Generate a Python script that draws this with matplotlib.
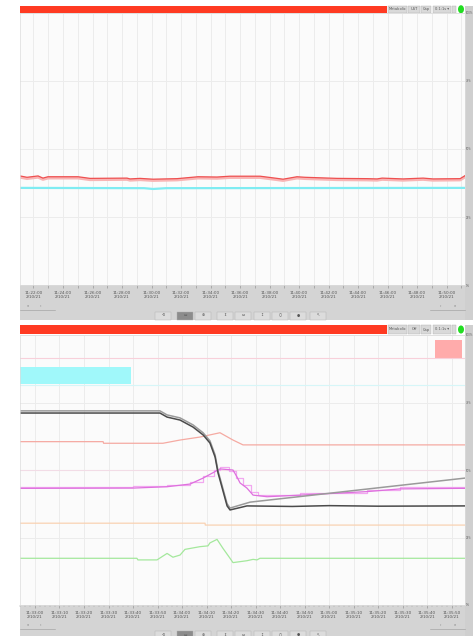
import matplotlib
matplotlib.use("Agg")
import matplotlib.pyplot as plt
from matplotlib.patches import Rectangle, Circle

W, H = 473, 636

# ---- top panel (x in minutes, y in % of scale) ----
TOP_RED_T = [-0.92, -0.44, 0.31, 0.64, 0.98, 3.02, 3.83, 6.34, 6.54, 7.22, 8.10, 9.73,
             11.15, 12.44, 13.32, 15.36, 16.51, 16.92, 17.86, 18.41, 20.58, 22.61,
             23.29, 23.63, 25.05, 26.41, 27.08, 28.92, 29.25]
TOP_RED_Y = [40.1, 39.6, 40.1, 39.3, 39.8, 39.8, 39.2, 39.3, 39.0, 39.2, 38.9, 39.1,
             39.8, 39.7, 40.0, 40.0, 39.2, 38.9, 39.8, 39.6, 39.2, 39.1,
             39.0, 39.3, 39.0, 39.3, 39.0, 39.1, 40.2]
TOP_CYAN_T = [-0.92, 7.5, 8.1, 9.0, 29.25]
TOP_CYAN_Y = [35.7, 35.6, 35.3, 35.6, 35.7]
TOP_TIMES = ["11:22:00", "11:24:00", "11:26:00", "11:28:00", "11:30:00", "11:32:00",
             "11:34:00", "11:36:00", "11:38:00", "11:40:00", "11:42:00", "11:44:00",
             "11:46:00", "11:48:00", "11:50:00"]

# ---- bottom panel (x in 10 s steps, y in % of scale) ----
DARK_U = [-0.61, 5.10, 5.39, 5.92, 6.45, 6.86, 7.14, 7.35, 7.47, 7.55, 7.84, 7.96,
          8.65, 10.5, 12.0, 14.0, 17.55]
DARK_Y = [71.1, 71.1, 69.6, 68.5, 65.9, 63.0, 60.0, 54.8, 48.9, 46.3, 36.7, 35.2,
          36.7, 36.5, 36.8, 36.6, 36.7]
GRAY_U = [-0.61, 5.10, 5.39, 5.92, 6.45, 6.86, 7.14, 7.35, 7.47, 7.55, 7.84, 7.96,
          8.78, 17.55]
GRAY_Y = [71.9, 71.9, 70.4, 69.3, 66.7, 63.8, 60.8, 55.6, 49.7, 47.1, 37.5, 35.9,
          38.1, 47.0]
SAL_U = [-0.61, 2.78, 2.80, 5.22, 5.92, 6.73, 7.55, 8.08, 8.49, 17.55]
SAL_Y = [60.5, 60.5, 59.9, 59.9, 61.1, 62.2, 63.8, 61.1, 59.3, 59.3]
MAG_U = [-0.61, 4.0, 5.39, 6.33, 6.86, 7.55, 8.08, 8.24, 8.37, 8.65, 8.90, 9.47,
         10.82, 13.55, 14.9, 17.35, 17.55]
MAG_Y = [43.2, 43.3, 43.8, 44.8, 47.0, 50.4, 50.0, 47.5, 45.2, 43.3, 40.7, 40.1,
         40.7, 42.0, 43.0, 43.2, 43.2]
MAG2_U = [-0.61, 4.0, 5.39, 6.33, 6.86, 7.3, 7.55, 7.9, 8.2, 8.5, 8.8, 9.1, 9.47,
          10.82, 13.55, 14.9, 17.55]
MAG2_Y = [43.8, 43.9, 44.4, 45.4, 47.6, 50.0, 51.0, 49.5, 47.0, 44.5, 42.0, 40.8,
          40.7, 41.3, 42.6, 43.6, 43.8]
ORG_U = [-0.61, 6.94, 6.95, 17.55]
ORG_Y = [30.3, 30.3, 29.6, 29.6]
GRN_U = [-0.61, 4.16, 4.20, 4.98, 5.39, 5.63, 5.92, 6.12, 6.73, 7.06, 7.14, 7.43,
         7.67, 7.96, 8.08, 8.65, 8.90, 9.06, 9.18, 17.55]
GRN_Y = [17.3, 17.3, 16.7, 16.7, 19.1, 17.7, 18.5, 20.6, 21.6, 21.9, 23.0, 24.3,
         21.0, 17.3, 15.7, 16.4, 16.9, 16.7, 17.3, 17.3]
LEVELS = [91.5, 81.3, 50.0]
LEVEL_COLORS = ["#f8d0da", "#d6f6f8", "#f2dce6"]
CYAN_BAND_U = [-0.61, 3.92]
CYAN_BAND_Y = [81.7, 88.3]
ALARM_U = [16.33, 17.43]
ALARM_Y = [91.5, 98.1]
BOT_TIMES = ["11:33:00", "11:33:10", "11:33:20", "11:33:30", "11:33:40", "11:33:50",
             "11:34:00", "11:34:10", "11:34:20", "11:34:30", "11:34:40", "11:34:50",
             "11:35:00", "11:35:10", "11:35:20", "11:35:30", "11:35:40", "11:35:50"]
DATE = "2/10/21"
PCT = ["0%", "25%", "50%", "75%", "100%"]

fig = plt.figure(figsize=(W / 100, H / 100), dpi=100)
fig.patch.set_facecolor("white")


def rect(x0, y0, x1, y1, **kw):
    kw.setdefault("zorder", -1)
    fig.patches.append(Rectangle((x0 / W, 1 - y1 / H), (x1 - x0) / W, (y1 - y0) / H,
                                 transform=fig.transFigure, **kw))


def txt(x, y, s, **kw):
    fig.text(x / W, 1 - y / H, s, ha="center", va="center", fontsize=2.6, color="#555555", **kw)


def chrome(bar_top, bar_bot, plot_bot, labs, nav_y, tool_y, end_y):
    # header bar + controls
    rect(20, bar_top, 387, bar_bot, facecolor="#ff3a22", lw=0)
    for (a, b, s) in [(388, 407, labs[0]), (408, 420, labs[1]), (421, 431, labs[2]),
                      (433, 451, "0.1:1s ▾"), (452, 456, "")]:
        rect(a, bar_top, b, bar_bot, facecolor="#d9d9d9", edgecolor="#b0b0b0", lw=0.3)
        txt((a + b) / 2, (bar_top + bar_bot) / 2, s)
    fig.patches.append(Circle((461 / W, 1 - (bar_top + bar_bot) / 2 / H), 3 / W,
                              transform=fig.transFigure, facecolor="#22dd22", lw=0, zorder=-1))
    # scrollbar
    rect(465, bar_top, 473, end_y, facecolor="#cfcfcf", lw=0)
    # time axis band
    rect(20, plot_bot, 465, end_y, facecolor="#d4d4d4", lw=0)
    # nav buttons
    txt(28, nav_y, "«"); txt(40, nav_y, "‹"); txt(440, nav_y, "›"); txt(455, nav_y, "»")
    fig.add_artist(plt.Line2D([20 / W, 55 / W], [1 - (nav_y + 3) / H] * 2, color="#999999", lw=0.4))
    fig.add_artist(plt.Line2D([430 / W, 465 / W], [1 - (nav_y + 3) / H] * 2, color="#999999", lw=0.4))
    # toolbar
    icons = ["⟲", "▭", "⊕", "⇕", "⇔", "↕", "○", "●", "↖"]
    for k, cx in enumerate([163, 185, 203, 225, 243, 262, 280, 298, 318]):
        rect(cx - 8, tool_y - 4, cx + 8, tool_y + 4,
             facecolor="#8c8c8c" if k == 1 else "#dcdcdc", edgecolor="#b0b0b0", lw=0.3)
        txt(cx, tool_y, icons[k])


chrome(6, 12.5, 285, ["Metabolic", "UST", "Cap"], 306.5, 315.5, 320)
chrome(325, 334, 605, ["Metabolic", "Off", "Cap"], 625.5, 635, 636)


def style(ax):
    ax.set_facecolor("#fbfbfb")
    for s in ax.spines.values():
        s.set_color("#dcdcdc")
        s.set_linewidth(0.5)
    ax.set_ylim(0, 100)
    ax.set_yticks([0, 25, 50, 75, 100])
    ax.set_yticklabels(PCT)
    ax.yaxis.tick_right()
    ax.tick_params(axis="y", length=0, pad=0.4, labelsize=1.9, labelcolor="#666666")
    ax.tick_params(axis="x", length=2, width=0.4, color="#888888", pad=2,
                   labelsize=3, labelcolor="#555555")
    ax.grid(True, color="#ececec", lw=0.7)
    ax.set_axisbelow(True)


# top panel
ax1 = fig.add_axes([20 / W, 1 - 285 / H, 445 / W, 272 / H])
style(ax1)
ax1.set_xlim(-0.915, 29.25)
ax1.set_xticks(range(30))
ax1.set_xticklabels([f"{TOP_TIMES[i // 2]}\n{DATE}" if i % 2 == 0 and i // 2 < len(TOP_TIMES) else ""
                     for i in range(30)])
ax1.plot(TOP_RED_T, [v - 0.5 for v in TOP_RED_Y], color="#f9b4b4", lw=2.0)
ax1.plot(TOP_RED_T, TOP_RED_Y, color="#ee5050", lw=0.9)
ax1.plot(TOP_CYAN_T, TOP_CYAN_Y, color="#7fecf2", lw=1.6)

# bottom panel
ax2 = fig.add_axes([20 / W, 1 - 605 / H, 445 / W, 270 / H])
style(ax2)
ax2.set_xlim(-0.612, 17.55)
ax2.set_xticks(range(18))
ax2.set_xticks([i / 5 for i in range(-3, 88)], minor=True)
ax2.tick_params(axis="x", which="minor", length=1.2, width=0.3, color="#999999")
ax2.set_xticklabels([f"{t}\n{DATE}" for t in BOT_TIMES])
ax2.fill_between(CYAN_BAND_U, CYAN_BAND_Y[0], CYAN_BAND_Y[1], color="#a0f8fa", lw=0)
ax2.fill_between(ALARM_U, ALARM_Y[0], ALARM_Y[1], color="#ffabab", lw=0)
for lv, c in zip(LEVELS, LEVEL_COLORS):
    ax2.axhline(lv, color=c, lw=0.8)
ax2.plot(ORG_U, ORG_Y, color="#f9d2b2", lw=0.9)
ax2.plot(GRN_U, GRN_Y, color="#a4e89c", lw=0.9)
ax2.plot(SAL_U, SAL_Y, color="#f5aaa2", lw=0.9)
ax2.plot(MAG2_U, MAG2_Y, color="#f2a8f0", lw=0.9, drawstyle="steps-post")
ax2.plot(MAG_U, MAG_Y, color="#de70de", lw=0.9)
ax2.plot(GRAY_U, GRAY_Y, color="#9a9a9a", lw=1.1)
ax2.plot(DARK_U, DARK_Y, color="#4a4a4a", lw=1.1)

fig.savefig("out.png", dpi=100)
